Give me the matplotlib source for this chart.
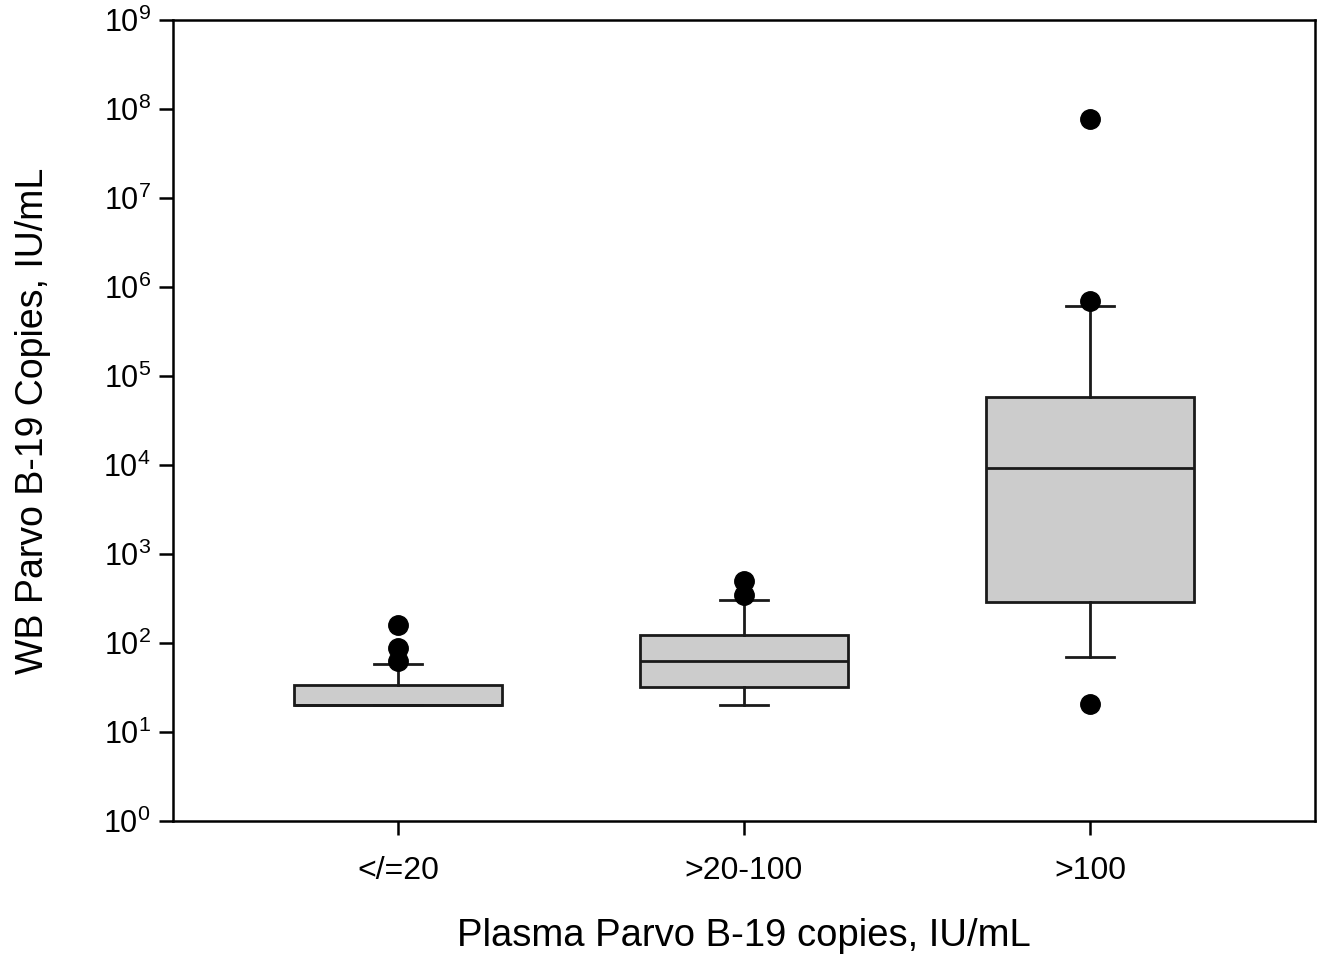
import matplotlib
matplotlib.use('Agg')
import matplotlib.pyplot as plt
from matplotlib.ticker import NullLocator

plt.rcParams['font.family'] = ['Liberation Sans', 'DejaVu Sans']
plt.rcParams['mathtext.fontset'] = 'custom'
plt.rcParams['mathtext.rm'] = 'Liberation Sans'
plt.rcParams['mathtext.it'] = 'Liberation Sans'
plt.rcParams['mathtext.default'] = 'regular'

categories = ['</=20', '>20-100', '>100']
q1 = [20, 32, 290]
med = [20, 63, 9300]
q3 = [34, 123, 58000]
whislo = [20, 20, 70]
whishi = [58, 305, 610000]
fliers = [[63, 88, 159], [347, 500], [20.5, 700000, 7.7e7]]

stats = []
for i in range(len(categories)):
    stats.append({'label': categories[i], 'q1': q1[i], 'med': med[i], 'q3': q3[i],
                  'whislo': whislo[i], 'whishi': whishi[i], 'fliers': fliers[i]})

fig = plt.figure(figsize=(13.26, 9.61), dpi=100)
ax = fig.add_axes([173 / 1326, 1 - 821 / 961, (1315 - 173) / 1326, (821 - 20) / 961])

ax.bxp(stats, positions=[1, 2, 3], widths=0.6, patch_artist=True,
       boxprops=dict(facecolor='#cccccc', edgecolor='#1a1a1a', linewidth=2),
       medianprops=dict(color='#1a1a1a', linewidth=2),
       whiskerprops=dict(color='#1a1a1a', linewidth=2),
       capprops=dict(color='#1a1a1a', linewidth=2),
       capwidths=0.14,
       flierprops=dict(marker='o', markerfacecolor='black', markeredgecolor='black', markersize=14))

ax.set_yscale('log')
ax.set_ylim(1, 1e9)
ax.set_xlim(0.35, 3.65)
ax.set_yticks([10 ** k for k in range(10)])
ax.set_yticklabels(['$10^{%d}$' % k for k in range(10)])
ax.yaxis.set_minor_locator(NullLocator())

for s in ax.spines.values():
    s.set_linewidth(1.8)
ax.tick_params(axis='both', direction='out', length=10, width=1.8, labelsize=22, pad=6)
ax.tick_params(axis='x', pad=15, labelsize=23)

ax.set_xlabel('Plasma Parvo B-19 copies, IU/mL', fontsize=27.5, labelpad=23)
ax.set_ylabel('WB Parvo B-19 Copies, IU/mL', fontsize=27, labelpad=38)

fig.savefig('out.png', dpi=100)
